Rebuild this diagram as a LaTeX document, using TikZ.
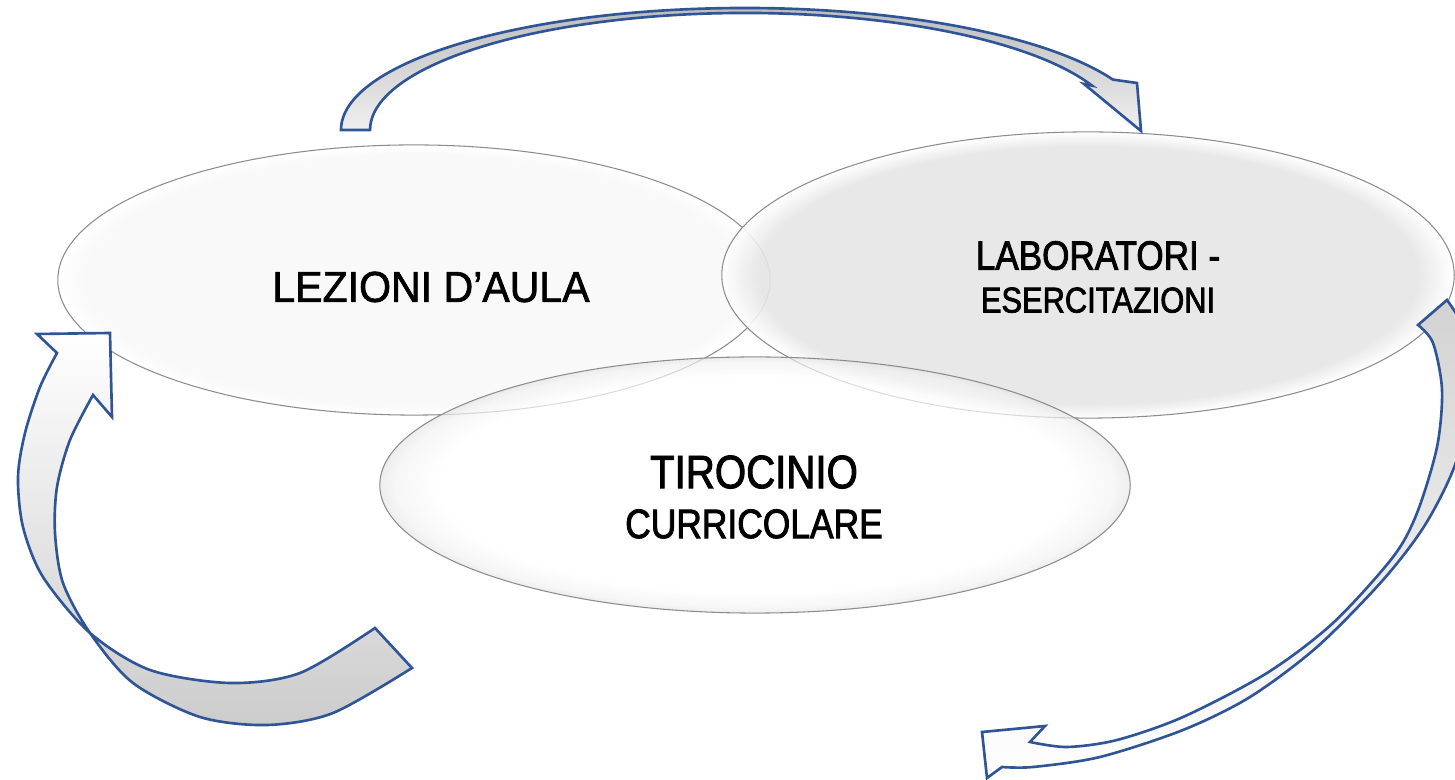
\documentclass[tikz,border=0pt]{standalone}
\usepackage{fontspec}
\newfontfamily\narrowsans{Liberation Sans}[FakeStretch=0.86, FakeBold=2]
\newfontfamily\widesans{Liberation Sans}[FakeStretch=0.95, FakeBold=1.5]
\usetikzlibrary{shapes.geometric,positioning}
\definecolor{arrowblue}{HTML}{2F5597}
\definecolor{rimline}{HTML}{8C8C8C}
\pgfdeclareradialshading{rimlight}{\pgfpoint{0bp}{0bp}}{color(0bp)=(gray!5); color(23bp)=(gray!5); color(25bp)=(white); color(50bp)=(white)}
\pgfdeclareradialshading{rimgray}{\pgfpoint{0bp}{0bp}}{color(0bp)=(gray!20); color(22.5bp)=(gray!20); color(25bp)=(white); color(50bp)=(white)}
\pgfdeclareradialshading{rimwhite}{\pgfpoint{0bp}{0bp}}{color(0bp)=(white); color(21bp)=(white); color(24bp)=(gray!10); color(25bp)=(gray!20); color(50bp)=(white)}
\tikzset{
  phase/.style={ellipse, draw=rimline, line width=0.3pt, inner sep=0pt, shade},
  caption/.style={align=center, inner sep=0pt},
  arrowbody/.style={draw=arrowblue, line width=0.75pt, line join=miter},
}

\begin{document}
\begin{tikzpicture}[x=0.01cm, y=-0.01cm]
  \useasboundingbox (0,0) rectangle (1455,780);
  % the three phases
  \node[phase, shading=rimlight, minimum width=7.12cm, minimum height=2.70cm] (lezioni) at (414,280) {};
  \node[phase, shading=rimgray, fill opacity=0.9, minimum width=7.32cm, minimum height=2.86cm] (laboratori) at (1088,275) {};
  \node[phase, shading=rimwhite, fill opacity=0.7, minimum width=7.50cm, minimum height=2.56cm] (tirocinio) at (755,485) {};
  %
  \node[caption, font=\widesans\fontsize{12.3}{14}\selectfont] (lezionitext) at ([xshift=0.17cm, yshift=-0.07cm]lezioni.center) {LEZIONI D’AULA};
  \node[caption, font=\narrowsans\fontsize{11.6}{12.2}\selectfont] (laboratoritext) at ([xshift=0.10cm, yshift=-0.02cm]laboratori.center) {LABORATORI -\\{\fontsize{10.2}{12.2}\selectfont ESERCITAZIONI}};
  \node[caption, font=\narrowsans\fontsize{13.3}{14.2}\selectfont] (tirociniotext) at ([xshift=-0.01cm, yshift=-0.12cm]tirocinio.center) {TIROCINIO\\{\fontsize{11.7}{14.2}\selectfont CURRICOLARE}};
  % the cycle of block arrows
  \draw[arrowbody, top color=gray!55, bottom color=gray!12] (370,130) -- (341,130)
    arc[start angle=180, end angle=335.6, x radius=404, y radius=122]
    -- (1137,83) -- (1141,131) -- (1084,84) -- (1092,85.6)
    arc[start angle=337.7, end angle=180, x radius=375, y radius=117]
    -- cycle;
  \draw[arrowbody, top color=gray!35, bottom color=white] (1418,325) -- (1447,300)
    -- plot[smooth] coordinates {(1447,300) (1466,335) (1470,400) (1455,465) (1425,525) (1383,580) (1317,647) (1250,697) (1183,730) (1100,757) (1033,767) (1002,767)}
    -- (987,778) -- (982,732) -- (1045,726) -- (1030,742)
    -- plot[smooth] coordinates {(1030,742) (1067,747) (1117,740) (1183,717) (1267,673) (1333,623) (1393,557) (1417,513) (1437,447) (1442,390) (1433,343) (1418,325)}
    -- cycle;
  \draw[arrowbody, top color=white, bottom color=gray!40] (93,395) -- (112,417) -- (110,333) -- (37,334) -- (57,353)
    -- plot[smooth] coordinates {(57,353) (40,387) (25,433) (18,477) (23,527) (43,577) (90,633) (150,670) (230,683) (300,673) (375,628)}
    -- (412,668)
    -- plot[smooth] coordinates {(412,668) (333,713) (267,725) (200,717) (133,683) (90,633) (63,583) (55,533) (57,487) (70,440) (93,395)}
    -- cycle;
\end{tikzpicture}
\end{document}
